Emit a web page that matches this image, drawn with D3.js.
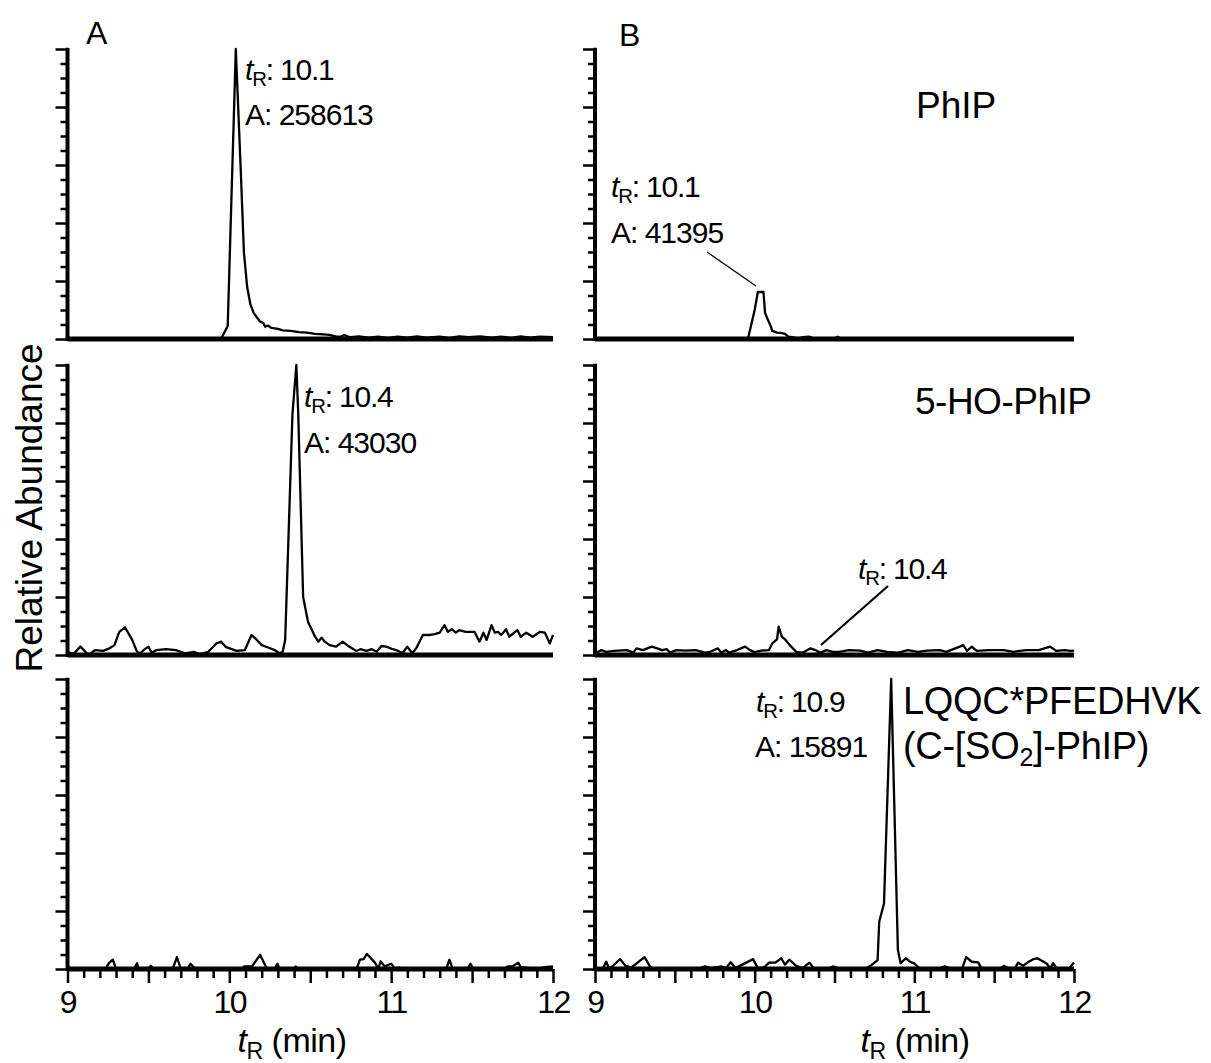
<!DOCTYPE html>
<html>
<head>
<meta charset="utf-8">
<script src="https://cdn.jsdelivr.net/npm/d3@7"></script>
<style>
  body { margin: 0; background: #fff; }
  svg { font-family: "Liberation Sans", Arial, sans-serif; }
</style>
</head>
<body>
<svg id="chart" width="1211" height="1063"></svg>
<script>
"use strict";

/********/
/* data */
/********/

// retention time (min), relative abundance (%)
const timeLabels = [9, 10, 11, 12];
const timeHalf = [9.5, 10.5, 11.5];
const timeMinor = [9.1, 9.2, 9.3, 9.4, 9.6, 9.7, 9.8, 9.9, 10.1, 10.2, 10.3, 10.4,
  10.6, 10.7, 10.8, 10.9, 11.1, 11.2, 11.3, 11.4, 11.6, 11.7, 11.8, 11.9];
const abundMajor = [0, 20, 40, 60, 80, 100];
const abundMinor = [5, 10, 15, 25, 30, 35, 45, 50, 55, 65, 70, 75, 85, 90, 95];

const phipA = [
  [9.00, 0.2], [9.95, 0.2], [9.99, 4.5], [10.04, 100], [10.07, 59], [10.09, 30],
  [10.11, 18], [10.13, 12], [10.15, 9], [10.17, 7.5], [10.19, 6], [10.21, 5.5],
  [10.22, 4.3], [10.24, 4.6], [10.26, 3.8], [10.30, 3.5], [10.33, 3.0], [10.38, 2.8],
  [10.43, 2.4], [10.48, 2.2], [10.53, 1.8], [10.58, 1.6], [10.62, 1.4], [10.66, 0.8],
  [10.69, 0.8], [10.71, 1.4], [10.73, 0.9], [10.75, 0.6], [10.80, 0.9], [10.86, 0.5],
  [10.92, 0.8], [10.98, 0.4], [11.04, 0.8], [11.10, 0.5], [11.16, 0.9], [11.22, 0.5],
  [11.30, 0.8], [11.36, 0.4], [11.42, 0.9], [11.48, 0.6], [11.55, 0.9], [11.62, 0.5],
  [11.68, 0.8], [11.74, 0.4], [11.80, 0.9], [11.86, 0.5], [11.92, 0.8], [12.00, 0.6]
];

const phipB = [
  [9.00, 0], [9.93, 0], [9.96, 0.5], [10.00, 10], [10.02, 16.2], [10.055, 16.2],
  [10.065, 9], [10.08, 7], [10.10, 4.5], [10.11, 2.8], [10.14, 2.2], [10.17, 2.0],
  [10.19, 1.8], [10.21, 0.8], [10.24, 0.6], [10.27, 0.3], [10.30, 0.6], [10.34, 0.8],
  [10.37, 0.2], [10.50, 0.2], [10.52, 0.8], [10.54, 0.2], [10.60, 0], [12.00, 0]
];

const hoPhipA = [
  [9.00, 1.1], [9.036, 0.3], [9.08, 2.9], [9.13, 0], [9.17, 1.7], [9.22, 1.4],
  [9.26, 2.3], [9.29, 3.4], [9.32, 8], [9.355, 9.5], [9.40, 5.2], [9.43, 1.1],
  [9.45, 0.6], [9.47, 1.7], [9.50, 2.9], [9.52, 0.8], [9.55, 1.7], [9.61, 2.0],
  [9.67, 1.7], [9.725, 0.6], [9.78, 1.1], [9.82, 0.3], [9.87, 1.1], [9.92, 4],
  [9.95, 4.6], [9.98, 2.7], [10.045, 1.4], [10.096, 1.7], [10.137, 6.9], [10.17, 5.2],
  [10.20, 3.4], [10.24, 2.6], [10.28, 1.7], [10.31, 0.6], [10.33, 1.1], [10.345, 5.2],
  [10.39, 83], [10.414, 100], [10.426, 83], [10.456, 20], [10.486, 11.5], [10.53, 6.3],
  [10.55, 4.6], [10.57, 6], [10.59, 4.6], [10.62, 3.4], [10.66, 2.9], [10.70, 4.6],
  [10.74, 2.9], [10.785, 1.4], [10.81, 2], [10.847, 1.4], [10.88, 2], [10.91, 1.1],
  [10.94, 3.1], [10.97, 2.9], [11.01, 2], [11.04, 1.5], [11.07, 0.6], [11.10, 2.9],
  [11.13, 0.6], [11.155, 2.3], [11.196, 6.9], [11.24, 6.9], [11.27, 7.2], [11.30, 7.7],
  [11.33, 10.3], [11.35, 8], [11.375, 8.9], [11.40, 7.7], [11.42, 8.6], [11.46, 8],
  [11.515, 8], [11.546, 4.6], [11.57, 7.7], [11.59, 5.2], [11.62, 10.3], [11.64, 7.7],
  [11.66, 8], [11.68, 6.9], [11.71, 8.9], [11.73, 6.3], [11.78, 8.6], [11.80, 6.3],
  [11.835, 7.7], [11.875, 6.3], [11.92, 8], [11.95, 7.7], [11.98, 4], [12.00, 6.9]
];

const hoPhipB = [
  [9.00, 0.3], [9.01, 0.8], [9.04, 1.7], [9.07, 1.1], [9.12, 1.4], [9.20, 1.7],
  [9.24, 0.8], [9.26, 2.3], [9.30, 1.7], [9.355, 2.9], [9.39, 2.3], [9.42, 1.7],
  [9.45, 2.0], [9.47, 0.8], [9.51, 1.7], [9.57, 1.5], [9.63, 1.7], [9.69, 0.8],
  [9.72, 1.1], [9.77, 2.3], [9.79, 0.8], [9.82, 1.7], [9.84, 0.8], [9.89, 1.7],
  [9.94, 2.9], [9.97, 1.7], [10.00, 1.0], [10.04, 1.5], [10.09, 1.7], [10.11, 4.0],
  [10.14, 5.4], [10.15, 9.8], [10.17, 6.3], [10.19, 5.4], [10.22, 3.4], [10.26, 1.1],
  [10.30, 0.8], [10.35, 2.3], [10.38, 1.7], [10.41, 0.8], [10.45, 1.7], [10.49, 1.1],
  [10.53, 1.1], [10.59, 1.7], [10.66, 1.5], [10.71, 0.8], [10.77, 1.7], [10.83, 1.1],
  [10.90, 0.8], [10.96, 1.7], [11.02, 1.1], [11.08, 1.5], [11.16, 1.7], [11.20, 1.1],
  [11.285, 2.9], [11.306, 3.4], [11.33, 1.4], [11.36, 2.9], [11.39, 1.4], [11.47, 1.7],
  [11.56, 1.7], [11.62, 1.1], [11.70, 1.7], [11.78, 1.7], [11.85, 2.9], [11.89, 1.4],
  [11.94, 1.7], [11.98, 1.4], [12.00, 1.5]
];

const peptideA = [
  [9.00, 2.0], [9.01, 0], [9.234, 0], [9.256, 2.0], [9.28, 3.2], [9.30, 0],
  [9.41, 0], [9.43, 2.0], [9.44, 0], [9.50, 0], [9.515, 1.1], [9.53, 0],
  [9.65, 0], [9.676, 4.1], [9.70, 0], [9.74, 0], [9.76, 1.8], [9.79, 0],
  [10.085, 0], [10.09, 0.9], [10.14, 0.9], [10.19, 4.9], [10.233, 0], [10.28, 0],
  [10.297, 1.8], [10.31, 0], [10.40, 0], [10.41, 0.9], [10.42, 0], [10.786, 0],
  [10.807, 3.2], [10.83, 3.4], [10.85, 5.2], [10.90, 2.2], [10.92, 0], [10.935, 2.6],
  [10.96, 0.9], [11.00, 1.8], [11.02, 0.3], [11.05, 0.5], [11.07, 0], [11.34, 0],
  [11.36, 3.2], [11.38, 0], [11.47, 0], [11.49, 1.8], [11.51, 0], [11.70, 0],
  [11.72, 0.9], [11.75, 0.9], [11.785, 2.2], [11.80, 0.7], [11.845, 0.4], [11.90, 0],
  [11.96, 0.7], [12.00, 0.9]
];

const peptideB = [
  [9.00, 0.2], [9.05, 0.2], [9.07, 2.5], [9.09, 0], [9.158, 3.4], [9.19, 1.1],
  [9.23, 0.6], [9.31, 4.1], [9.35, 0.4], [9.45, 0.3], [9.64, 0.3], [9.66, 0.4],
  [9.69, 0.9], [9.72, 0.3], [9.76, 0.6], [9.79, 0.9], [9.82, 0.3], [9.85, 2.3],
  [9.88, 0.3], [9.99, 3.4], [10.02, 0.3], [10.06, 0.6], [10.09, 2.2], [10.13, 2.2],
  [10.166, 3.7], [10.19, 1.5], [10.217, 3.2], [10.26, 1.1], [10.30, 0.3], [10.343, 2.2],
  [10.37, 0.3], [10.47, 0.3], [10.49, 0.9], [10.52, 0.3], [10.70, 0.3], [10.733, 1.4],
  [10.77, 3.1], [10.78, 16.3], [10.81, 22.6], [10.855, 100], [10.897, 6.6], [10.914, 2],
  [10.947, 3.7], [10.97, 2.6], [10.997, 2], [11.03, 0.3], [11.16, 0.3], [11.19, 0.9],
  [11.22, 0.3], [11.30, 0.3], [11.325, 4.1], [11.36, 2.5], [11.40, 2.3], [11.42, 0.3],
  [11.54, 0.3], [11.56, 1.1], [11.59, 0.3], [11.63, 0.3], [11.65, 2.2], [11.68, 1.1],
  [11.71, 2.3], [11.745, 3.4], [11.77, 3.7], [11.81, 2.5], [11.83, 1.8], [11.85, 0.3],
  [11.87, 2.0], [11.89, 0.3], [11.97, 0.3], [12.00, 2.2]
];

/**********/
/* layout */
/**********/

const svg = d3.select("#chart");

const cols = [{ x0: 67.5, x1: 553 }, { x0: 595, x1: 1074 }];
const rows = [{ top: 49, base: 339 }, { top: 365, base: 655 }, { top: 679, base: 969 }];

/********/
/* view */
/********/

function panel(col, row, trace, timeAxis) {
  const x = d3.scaleLinear().domain([9, 12]).range([col.x0, col.x1]);
  const y = d3.scaleLinear().domain([0, 100]).range([row.base, row.top]);
  const g = svg.append("g");

  g.append("g")
    .attr("transform", `translate(${col.x0},0)`)
    .call(d3.axisLeft(y).tickValues(abundMinor).tickSize(7).tickFormat(""))
    .call(a => a.select(".domain").remove())
    .selectAll("line")
    .attr("stroke-width", 2.5);

  g.append("g")
    .attr("transform", `translate(${col.x0},0)`)
    .call(d3.axisLeft(y).tickValues(abundMajor).tickSize(12).tickFormat(""))
    .call(a => a.select(".domain").remove())
    .selectAll("line")
    .attr("stroke-width", 2.5);

  g.append("line")
    .attr("x1", col.x0).attr("x2", col.x0)
    .attr("y1", y(100) - 1.2).attr("y2", y(0) + 2)
    .attr("stroke", "#000").attr("stroke-width", 4);

  if (timeAxis) {
    g.append("g")
      .attr("transform", `translate(0,${row.base})`)
      .call(d3.axisBottom(x).tickValues(timeMinor).tickSize(9).tickFormat(""))
      .call(a => a.select(".domain").remove())
      .selectAll("line")
      .attr("stroke-width", 2.5);

    g.append("g")
      .attr("transform", `translate(0,${row.base})`)
      .call(d3.axisBottom(x).tickValues(timeHalf).tickSize(14).tickFormat(""))
      .call(a => a.select(".domain").remove())
      .selectAll("line")
      .attr("stroke-width", 2.5);

    const labels = g.append("g")
      .attr("transform", `translate(0,${row.base})`)
      .call(d3.axisBottom(x).tickValues(timeLabels).tickSize(14).tickPadding(7).tickFormat(d3.format("d")));
    labels.select(".domain").remove();
    labels.selectAll("line").attr("stroke-width", 2.5);
    labels.selectAll("text")
      .attr("font-size", 32)
      .attr("letter-spacing", -1.5)
      .attr("font-family", "Liberation Sans, Arial, sans-serif")
      .attr("fill", "#000");
  }

  g.append("path")
    .datum(trace)
    .attr("fill", "none")
    .attr("stroke", "#000")
    .attr("stroke-width", 2.3)
    .attr("stroke-linejoin", "round")
    .attr("d", d3.line().x(d => x(d[0])).y(d => y(d[1])));

  g.append("line")
    .attr("x1", col.x0).attr("x2", col.x1)
    .attr("y1", row.base).attr("y2", row.base)
    .attr("stroke", "#000").attr("stroke-width", 5);

  return { x, y };
}

// "tR: value" label with italic t and subscript R
function retention(x, y, value, size, spacing) {
  const t = svg.append("text").attr("x", x).attr("y", y)
    .attr("font-size", size).attr("letter-spacing", spacing);
  t.append("tspan").attr("font-style", "italic").text("t");
  t.append("tspan").attr("font-size", size * 0.68).attr("dy", size * 0.2).text("R");
  t.append("tspan").attr("dy", -size * 0.2).text(value);
  return t;
}

function label(x, y, str, size, spacing = 0) {
  return svg.append("text").attr("x", x).attr("y", y)
    .attr("font-size", size).attr("letter-spacing", spacing).text(str);
}

function leader(x1, y1, x2, y2, w) {
  svg.append("line")
    .attr("x1", x1).attr("y1", y1).attr("x2", x2).attr("y2", y2)
    .attr("stroke", "#000").attr("stroke-width", w);
}

panel(cols[0], rows[0], phipA, false);
panel(cols[1], rows[0], phipB, false);
panel(cols[0], rows[1], hoPhipA, false);
panel(cols[1], rows[1], hoPhipB, false);
panel(cols[0], rows[2], peptideA, true);
panel(cols[1], rows[2], peptideB, true);

// panel letters
label(86, 44, "A", 32);
label(619, 46, "B", 32);

// compound names
label(916, 118, "PhIP", 37);
label(915, 414, "5-HO-PhIP", 37, -0.5);
label(903, 714, "LQQC*PFEDHVK", 38, -0.3);
const so2 = label(903, 759, "(C-[SO", 38, -0.3);
so2.append("tspan").attr("font-size", 25).attr("dy", 7).text("2");
so2.append("tspan").attr("dy", -7).text("]-PhIP)");

// peak annotations
retention(245, 80, ": 10.1", 30, -1.2);
label(245, 125, "A: 258613", 30, -1);
retention(611, 197, ": 10.1", 30, -1.2);
label(611, 243, "A: 41395", 30, -1);
leader(707, 252, 756, 286, 1.3);

retention(304, 407, ": 10.4", 30, -1.2);
label(304, 453, "A: 43030", 30, -1);
retention(858, 579, ": 10.4", 30, -1.2);
leader(888, 586, 821, 645, 2.2);

retention(756, 712, ": 10.9", 30, -1.2);
label(755, 757, "A: 15891", 30, -1);

// axis titles
retention(292, 1052, " (min)", 34, -0.5).attr("text-anchor", "middle");
retention(915, 1052, " (min)", 34, -0.5).attr("text-anchor", "middle");

svg.append("text")
  .attr("transform", "translate(42,508) rotate(-90)")
  .attr("text-anchor", "middle")
  .attr("font-size", 37)
  .text("Relative Abundance");
</script>
</body>
</html>
